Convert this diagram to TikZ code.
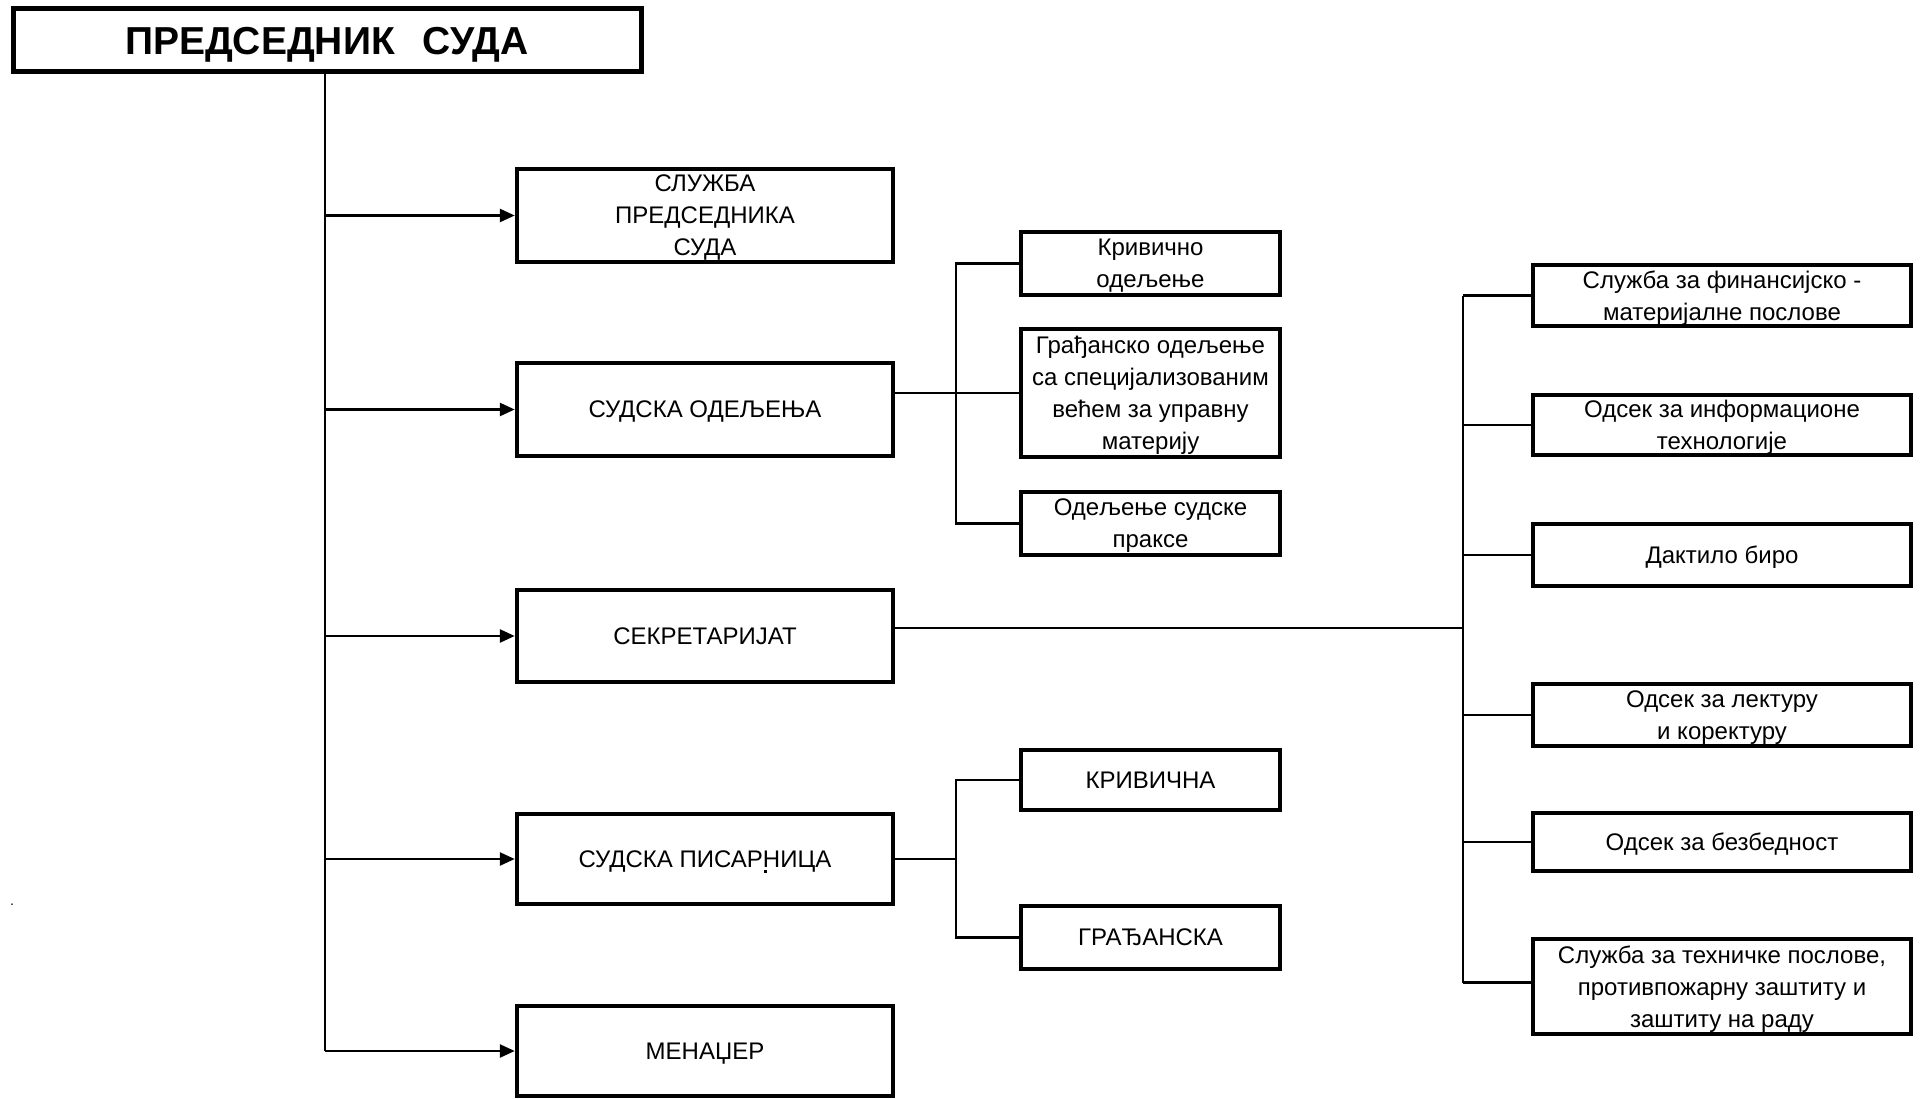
\documentclass[tikz,border=0pt]{standalone}
\usepackage{fontspec}
\setmainfont{Liberation Sans}
\usetikzlibrary{arrows.meta,calc}
\begin{document}
\begin{tikzpicture}[x=1pt,y=-1pt,
  box/.style={draw, line width=4.5pt, align=center, inner sep=0pt, text depth=0pt, font=\fontsize{24}{32}\selectfont},
  conn/.style={line width=2.7pt},
  thinconn/.style={line width=2.2pt},
  arr/.style={line width=2.7pt, -{Triangle[length=15pt,width=13pt]}},
]
\useasboundingbox[fill=white] (0,0) rectangle (1921,1099);

% title
\node[box, line width=5pt, minimum width=628pt, minimum height=63pt, font=\fontsize{39}{44}\selectfont\bfseries]
  (title) at (327,40.5) {ПРЕДСЕДНИК\hspace{28pt}СУДА};

% level 1
\node[box, minimum width=376pt, minimum height=93pt] (s1) at (705,215.5) {СЛУЖБА\\ПРЕДСЕДНИКА\\СУДА};
\node[box, minimum width=376pt, minimum height=93pt] (s2) at (705,409.5) {СУДСКА ОДЕЉЕЊА};
\node[box, minimum width=376pt, minimum height=92pt] (s3) at (705,636) {СЕКРЕТАРИЈАТ};
\node[box, minimum width=376pt, minimum height=90pt] (s4) at (705,859) {СУДСКА ПИСАРНИЦА};
\node[box, minimum width=376pt, minimum height=90pt] (s5) at (705,1051) {МЕНАЏЕР};

% court departments
\node[box, minimum width=259pt, minimum height=63pt] (k1) at (1150.5,263.5) {Кривично\\одељење};
\node[box, minimum width=259pt, minimum height=128pt] (k2) at (1150.5,393) {Грађанско одељење\\са специјализованим\\већем за управну\\материју};
\node[box, minimum width=259pt, minimum height=63pt] (k3) at (1150.5,523.5) {Одељење судске\\праксе};

% registry
\node[box, minimum width=259pt, minimum height=60pt] (p1) at (1150.5,780) {КРИВИЧНА};
\node[box, minimum width=259pt, minimum height=63pt] (p2) at (1150.5,937.5) {ГРАЂАНСКА};

% secretariat
\node[box, minimum width=378pt, minimum height=61pt] (r1) at (1722,295.5) {Служба за финансијско -\\материјалне послове};
\node[box, minimum width=378pt, minimum height=60pt] (r2) at (1722,425) {Одсек за информационе\\технологије};
\node[box, minimum width=378pt, minimum height=62pt] (r3) at (1722,555) {Дактило биро};
\node[box, minimum width=378pt, minimum height=62pt] (r4) at (1722,715) {Одсек за лектуру\\и коректуру};
\node[box, minimum width=378pt, minimum height=58pt] (r5) at (1722,842) {Одсек за безбедност};
\node[box, minimum width=378pt, minimum height=95pt] (r6) at (1722,986.5) {Служба за техничке послове,\\противпожарну заштиту и\\заштиту на раду};

% stray marks
\node[font=\fontsize{14}{16}\selectfont, inner sep=0pt, anchor=base] (dot) at (12,905) {.};
\fill (764,870) rectangle (767,873);

% trunk
\coordinate (tb) at (325,1051);
\draw[conn] (title.south -| tb) -- (tb);
\foreach \n in {s1,s2,s3,s4,s5} {
  \draw[arr] (tb |- \n.west) -- (\n.west);
}

% court departments bracket
\coordinate (b1) at (956,0);
\draw[conn] (s2.east |- k2.west) -- (k2.west);
\draw[conn] (k1.west) -- (k1.west -| b1) -- (k3.west -| b1) -- (k3.west);

% registry bracket
\draw[conn] (s4.east) -- (s4.east -| b1);
\draw[conn] (p1.west) -- (p1.west -| b1) -- (p2.west -| b1) -- (p2.west);

% secretariat bracket
\coordinate (b2) at (1463,0);
\draw[conn] ($(s3.east)+(0,-8)$) -- ($(s3.east -| b2)+(0,-8)$);
\draw[thinconn] (r1.west -| b2) -- ($(r6.west -| b2)+(0,-4)$);
\foreach \n in {r1,r2,r3,r4,r5} {
  \draw[conn] (\n.west -| b2) -- (\n.west);
}
\draw[conn] ($(r6.west -| b2)+(0,-4)$) -- ($(r6.west)+(0,-4)$);
\end{tikzpicture}
\end{document}
